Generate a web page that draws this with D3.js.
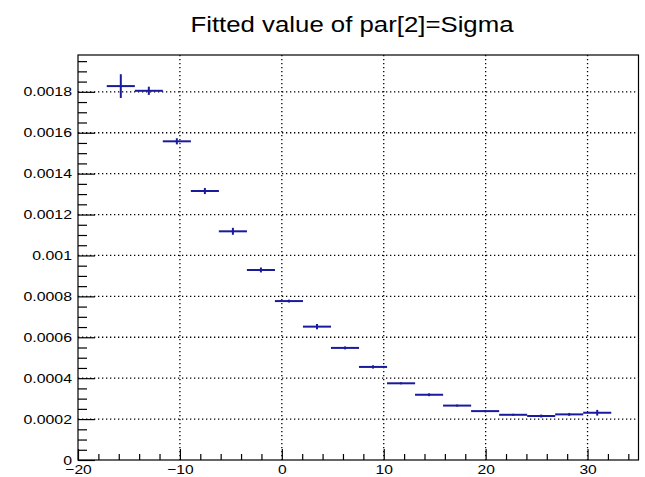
<!DOCTYPE html>
<html>
<head>
<meta charset="utf-8">
<script src="https://cdn.jsdelivr.net/npm/d3@7"></script>
<style>
body { margin: 0; background: #fff; }
svg { display: block; font-family: "Liberation Sans", Arial, Helvetica, sans-serif; }
</style>
</head>
<body>
<div id="chart"></div>
<script>
// slice centres along x and the fitted sigma of each slice
const binCenters = [-15.8, -13.05, -10.3, -7.55, -4.8, -2.05, 0.7, 3.45, 6.2, 8.95,
                    11.7, 14.45, 17.2, 19.95, 22.7, 25.45, 28.2, 30.95];
const binHalfWidth = 1.378;
const sigmaValues = [0.001828, 0.001805, 0.001558, 0.001315, 0.001118, 0.000929, 0.000777, 0.000652, 0.000548,
                     0.000455, 0.000375, 0.000319, 0.000266, 0.000239, 0.000221, 0.000215, 0.000223, 0.000231];
const sigmaErrors = [0.000058, 0.00002, 0.000015, 0.000015, 0.000017, 0.000012, 0.000007, 0.000013, 0.000007,
                     0.000008, 0.000005, 0.000007, 0.000005, 0.000005, 0.000005, 0.000007, 0.000007, 0.000014];

const xTicks = [-20, -10, 0, 10, 20, 30];
const xTickLabels = ["\u221220", "\u221210", "0", "10", "20", "30"];
const yTicks = [0, 0.0002, 0.0004, 0.0006, 0.0008, 0.001, 0.0012, 0.0014, 0.0016, 0.0018];
const yTickLabels = ["0", "0.0002", "0.0004", "0.0006", "0.0008", "0.001", "0.0012", "0.0014", "0.0016", "0.0018"];
const titleText = "Fitted value of par[2]=Sigma";

const W = 645, H = 477;
const margin = { top: 55, right: 6.5, bottom: 17, left: 78 };
const width = W - margin.left - margin.right;
const height = H - margin.top - margin.bottom;

const svg = d3.select("#chart")
  .append("svg")
    .attr("width", W)
    .attr("height", H);

const g = svg.append("g")
    .attr("transform", `translate(${margin.left},${margin.top})`);

const x = d3.scaleLinear().domain([-20, 35]).range([0, width]);
const y = d3.scaleLinear().domain([0, 0.00198]).range([height, 0]);

// glyphs in the picture are wider than the plain font, stretch them a bit
function stretch(sel, k) {
  sel.each(function () {
    const w = this.getComputedTextLength();
    d3.select(this).attr("textLength", w * k).attr("lengthAdjust", "spacingAndGlyphs");
  });
}

// dotted grid
g.selectAll(".xgrid")
  .data(xTicks.slice(1))
  .join("line")
    .attr("x1", d => x(d)).attr("x2", d => x(d))
    .attr("y1", 0).attr("y2", height)
    .attr("stroke", "#000").attr("stroke-width", 1.3)
    .attr("stroke-dasharray", "1.3,2.7");

g.selectAll(".ygrid")
  .data(yTicks.slice(1))
  .join("line")
    .attr("x1", 0).attr("x2", width)
    .attr("y1", d => y(d)).attr("y2", d => y(d))
    .attr("stroke", "#000").attr("stroke-width", 1.3)
    .attr("stroke-dasharray", "1.3,2.7");

// minor ticks
const xMinor = d3.range(-20, 35, 2).filter(d => d % 10 !== 0);
const yMinor = d3.range(0, 0.00198, 0.00005).filter((d, i) => i % 4 !== 0);

g.append("g")
    .attr("transform", `translate(0,${height})`)
    .call(d3.axisBottom(x).tickValues(xMinor).tickSize(-6).tickFormat(""))
    .call(a => a.select(".domain").remove());

g.append("g")
    .call(d3.axisLeft(y).tickValues(yMinor).tickSize(-9).tickFormat(""))
    .call(a => a.select(".domain").remove());

// major ticks + labels
const xAxis = g.append("g")
    .attr("transform", `translate(0,${height})`)
    .call(d3.axisBottom(x).tickValues(xTicks).tickSize(-11).tickPadding(5)
      .tickFormat((d, i) => xTickLabels[i]))
    .call(a => a.select(".domain").remove());
xAxis.selectAll("text")
    .attr("fill", "#000")
    .style("font-size", "13px")
    .call(stretch, 1.2);

const yAxis = g.append("g")
    .call(d3.axisLeft(y).tickValues(yTicks).tickSize(-17).tickPadding(6)
      .tickFormat((d, i) => yTickLabels[i]))
    .call(a => a.select(".domain").remove());
yAxis.selectAll("text")
    .attr("fill", "#000")
    .style("font-size", "12.6px")
    .call(stretch, 1.26);

g.selectAll(".tick line").attr("stroke", "#000").attr("stroke-width", 1.2);

// frame
g.append("rect")
    .attr("width", width)
    .attr("height", height)
    .attr("fill", "none")
    .attr("stroke", "#000")
    .attr("stroke-width", 1.2);

// the fitted points: bin width + error bar
const pts = binCenters.map((c, i) => ({ c: c, v: sigmaValues[i], e: sigmaErrors[i] }));

g.selectAll(".hbar")
  .data(pts)
  .join("line")
    .attr("x1", d => x(d.c - binHalfWidth))
    .attr("x2", d => x(d.c + binHalfWidth))
    .attr("y1", d => y(d.v)).attr("y2", d => y(d.v))
    .attr("stroke", "#1a1a9c")
    .attr("stroke-width", 2);

g.selectAll(".vbar")
  .data(pts)
  .join("line")
    .attr("x1", d => x(d.c)).attr("x2", d => x(d.c))
    .attr("y1", d => y(d.v - d.e)).attr("y2", d => y(d.v + d.e))
    .attr("stroke", "#1a1a9c")
    .attr("stroke-width", 2);

// title
svg.append("text")
    .attr("x", 352)
    .attr("y", 32)
    .attr("text-anchor", "middle")
    .style("font-size", "21.5px")
    .attr("fill", "#000")
    .attr("textLength", 323)
    .attr("lengthAdjust", "spacingAndGlyphs")
    .text(titleText);
</script>
</body>
</html>
